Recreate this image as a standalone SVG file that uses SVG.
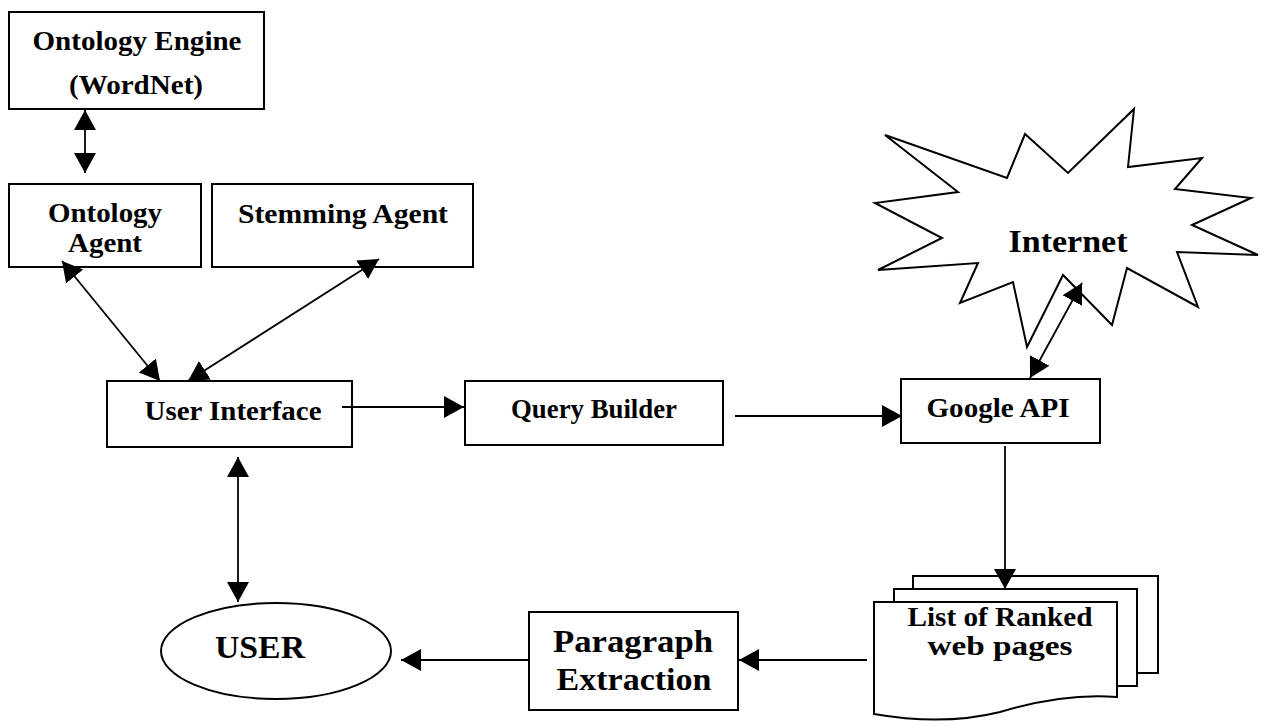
<svg xmlns="http://www.w3.org/2000/svg" width="1265" height="721" viewBox="0 0 1265 721">
<style>
  .box{fill:#fff;stroke:#000;stroke-width:2}
  .t{font-family:"Liberation Serif","Times New Roman",serif;font-weight:bold;fill:#000;text-anchor:middle}
  .s{font-size:27px}
  .l{font-size:31px}
  .c{fill:none;stroke:#000;stroke-width:1.8}
</style>
<defs>
  <marker id="ah" markerUnits="userSpaceOnUse" markerWidth="22" markerHeight="24" refX="20" refY="11" orient="auto-start-reverse">
    <path d="M0,0 L20,11 L0,22 Z" fill="#000"/>
  </marker>
</defs>
<rect width="1265" height="721" fill="#fff"/>

<g id="internet">
  <polygon class="box" points="885,135 1007,178 1025,134 1068,173 1134,109 1128,167 1202,158 1175,189 1251,198 1192,225 1258,255 1177,252 1198,307 1127,268 1112,325 1063,275 1027,347 1013,282 960,303 978,263 878,270 942,238 875,203 958,192"/>
  <text class="t l" x="1068" y="252" textLength="119" lengthAdjust="spacingAndGlyphs">Internet</text>
</g>

<g id="ontology-engine">
  <rect class="box" x="9" y="12" width="255" height="97"/>
  <text class="t s" x="137" y="50" textLength="209" lengthAdjust="spacingAndGlyphs">Ontology Engine</text>
  <text class="t s" x="136" y="94" textLength="134" lengthAdjust="spacingAndGlyphs">(WordNet)</text>
</g>

<g id="ontology-agent">
  <rect class="box" x="9" y="184" width="192" height="83"/>
  <text class="t s" x="105" y="222" textLength="114" lengthAdjust="spacingAndGlyphs">Ontology</text>
  <text class="t s" x="105" y="252" textLength="74" lengthAdjust="spacingAndGlyphs">Agent</text>
</g>

<g id="stemming-agent">
  <rect class="box" x="212" y="184" width="261" height="83"/>
  <text class="t s" x="343" y="223" textLength="210" lengthAdjust="spacingAndGlyphs">Stemming Agent</text>
</g>

<g id="user-interface">
  <rect class="box" x="107" y="381" width="245" height="66"/>
  <text class="t s" x="233" y="420" textLength="177" lengthAdjust="spacingAndGlyphs">User Interface</text>
</g>

<g id="query-builder">
  <rect class="box" x="465" y="381" width="258" height="64"/>
  <text class="t s" x="594" y="418" textLength="166" lengthAdjust="spacingAndGlyphs">Query Builder</text>
</g>

<g id="google-api">
  <rect class="box" x="901" y="379" width="199" height="64"/>
  <text class="t s" x="998" y="417" textLength="143" lengthAdjust="spacingAndGlyphs">Google API</text>
</g>

<g id="ranked-pages">
  <path class="box" d="M913,589 L913,576 L1158,576 L1158,673 L1137,673"/>
  <path class="box" d="M894,602 L894,589 L1137,589 L1137,686 L1117,686"/>
  <path class="box" d="M874,602 L1117,602 L1117,697 C1080,694 1040,700 1000,712 C 960,722 920,722 874,714 Z"/>
  <text class="t s" x="1000" y="626" textLength="185" lengthAdjust="spacingAndGlyphs">List of Ranked</text>
  <text class="t s" x="1000" y="655" textLength="145" lengthAdjust="spacingAndGlyphs">web pages</text>
</g>

<g id="paragraph-extraction">
  <rect class="box" x="529" y="612" width="209" height="98"/>
  <text class="t l" x="633" y="652" textLength="160" lengthAdjust="spacingAndGlyphs">Paragraph</text>
  <text class="t l" x="634" y="690" textLength="155" lengthAdjust="spacingAndGlyphs">Extraction</text>
</g>

<g id="user">
  <ellipse class="box" cx="276" cy="651" rx="115" ry="48"/>
  <text class="t l" x="260" y="658" textLength="90" lengthAdjust="spacingAndGlyphs">USER</text>
</g>

<g id="connectors">
  <line class="c" x1="85" y1="110" x2="85" y2="173" marker-start="url(#ah)" marker-end="url(#ah)"/>
  <line class="c" x1="62" y1="261" x2="160" y2="381" marker-start="url(#ah)" marker-end="url(#ah)"/>
  <line class="c" x1="379" y1="259" x2="188" y2="381" marker-start="url(#ah)" marker-end="url(#ah)"/>
  <line class="c" x1="238" y1="457" x2="238" y2="602" marker-start="url(#ah)" marker-end="url(#ah)"/>
  <line class="c" x1="342" y1="407" x2="464" y2="407" marker-end="url(#ah)"/>
  <line class="c" x1="735" y1="416" x2="902" y2="416" marker-end="url(#ah)"/>
  <line class="c" x1="1030" y1="378" x2="1082" y2="283" marker-start="url(#ah)" marker-end="url(#ah)"/>
  <line class="c" x1="1005" y1="446" x2="1005" y2="589" marker-end="url(#ah)"/>
  <line class="c" x1="867" y1="660" x2="739" y2="660" marker-end="url(#ah)"/>
  <line class="c" x1="529" y1="660" x2="401" y2="660" marker-end="url(#ah)"/>
</g>
</svg>
